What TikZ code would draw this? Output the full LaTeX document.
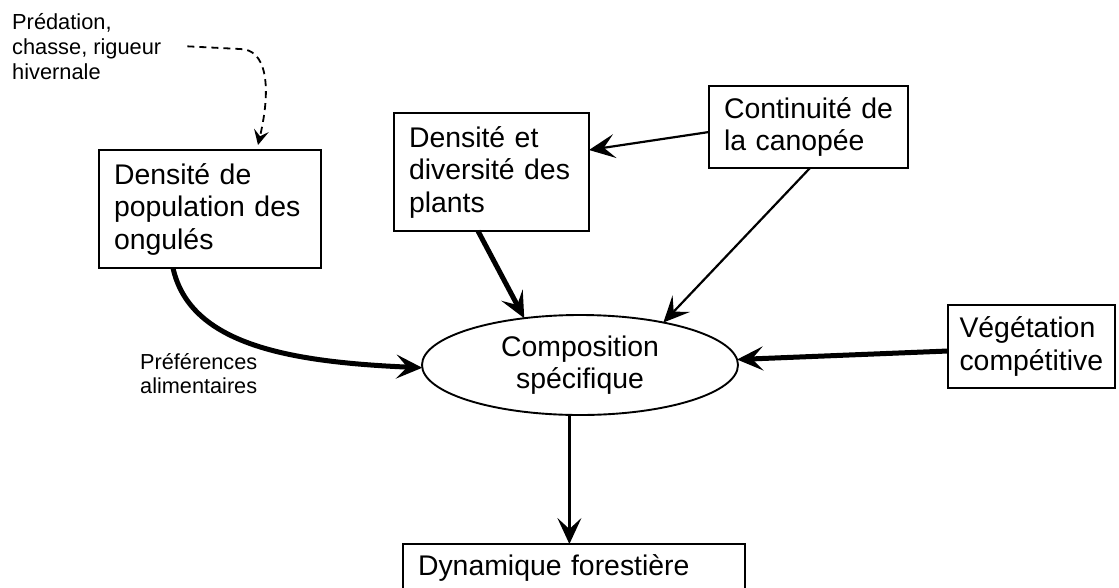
\documentclass[tikz,border=0pt]{standalone}
\usepackage{fontspec}
\setmainfont{Liberation Sans}
\usetikzlibrary{arrows.meta,shapes.geometric}
\begin{document}
\begin{tikzpicture}[x=1pt,y=-1pt,
  box/.style={draw, line width=1.8pt, rectangle, anchor=north west, align=left,
    inner xsep=15pt, inner ysep=0pt, outer sep=0pt,
    font=\fontsize{28.4}{32.5}\selectfont},
  ell/.style={draw, line width=1.9pt, ellipse, inner sep=0pt, outer sep=0pt,
    minimum width=316pt, minimum height=100pt, align=center,
    font=\fontsize{28.4}{32}\selectfont},
  lbl/.style={anchor=north west, align=left, inner sep=0pt},
  tip/.style={-{Stealth[length=26pt,width=24pt,inset=11pt]}},
  thinarrow/.style={tip, line width=2.2pt},
  thickarrow/.style={tip, line width=5pt},
  dasharrow/.style={line width=1.8pt, dash pattern=on 7pt off 5pt,
    -{Stealth[length=15pt,width=15pt,inset=6pt]}}
]
\path[use as bounding box, fill=white] (0,0) rectangle (1119,587);

\node[lbl, font=\fontsize{21.8}{25}\selectfont] (pred) at (12,13)
  {Prédation,\\chasse, rigueur\\hivernale};
\node[lbl, font=\fontsize{21.7}{24}\selectfont] (pref) at (140,353)
  {Préférences\\alimentaires};

\node[box, text width=192pt, minimum width=222pt, minimum height=118pt] (ong) at (99,150)
  {Densité de\\population des\\ongulés};
\node[box, text width=165pt, minimum width=195pt, minimum height=118pt] (plants) at (394,113)
  {Densité et\\diversité des\\plants};
\node[box, text width=169pt, minimum width=199pt, minimum height=82pt] (canop) at (709,86)
  {Continuité~de\\la canopée};
\node[box, inner xsep=11.5pt, text width=144pt, minimum width=167pt, minimum height=83pt] (veg) at (948,305)
  {Végétation\\compétitive};
\node[box, text width=312pt, minimum width=342pt, minimum height=47.3pt] (dyn) at (403,544)
  {Dynamique forestière};

\node[ell] (comp) at (580,365) {Composition\\spécifique};

\draw[dasharrow] ([xshift=26pt]pred.east) -- (240,49)
  .. controls (266,49) and (272,85) .. ([xshift=159pt,yshift=5pt]ong.north west);

\draw[thickarrow] ([xshift=74pt]ong.south west)
  .. controls (190,345) and (290,362) .. (comp.181);
\draw[thickarrow] ([xshift=84pt]plants.south west) -- (comp.140);
\draw[thinarrow] ([xshift=101pt]canop.south west) -- (comp.27);
\draw[thinarrow] ([yshift=-5pt]canop.west) -- ([yshift=22pt]plants.east);
\draw[thickarrow] ([yshift=-4.5pt]veg.west) -- (comp.2);
\draw[thinarrow] (comp.258) -- (comp.258 |- dyn.north);
\end{tikzpicture}
\end{document}
